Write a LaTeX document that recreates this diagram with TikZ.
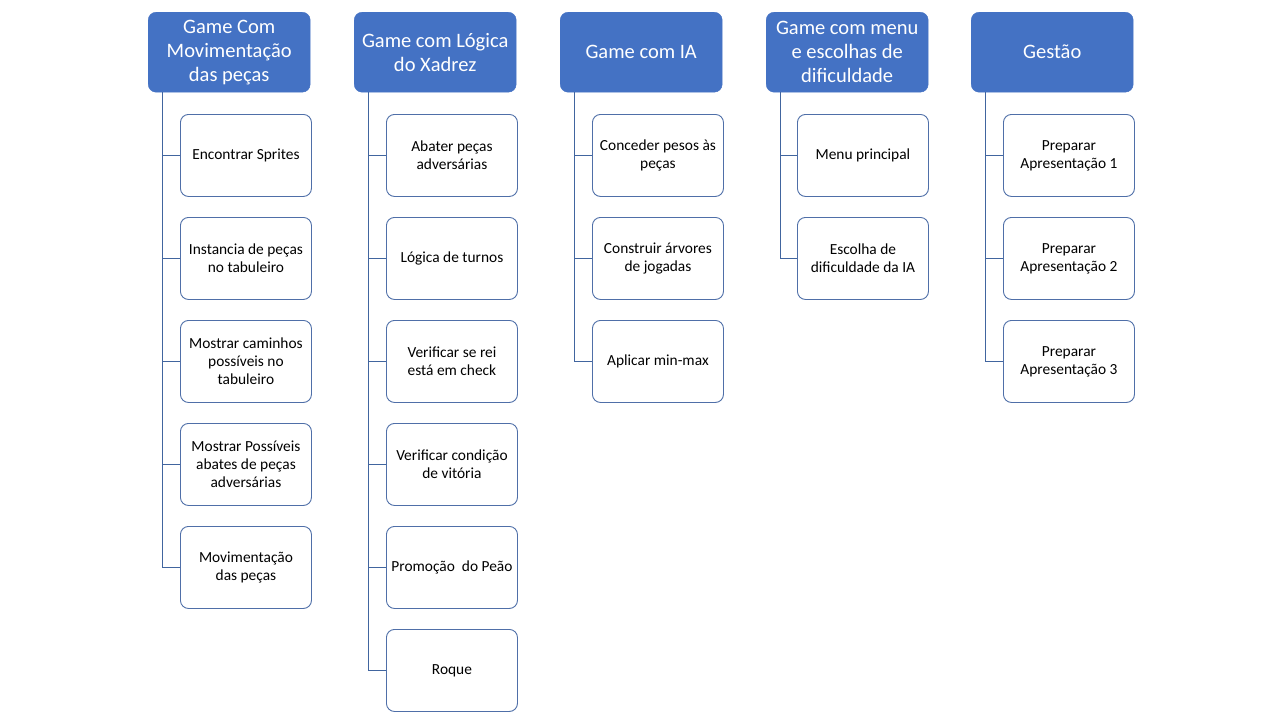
\documentclass[tikz,border=0pt]{standalone}
\usepackage{fontspec}
\setmainfont{Carlito}
\definecolor{hblue}{HTML}{4472C4}
\definecolor{bblue}{HTML}{4F6FA8}
\definecolor{lblue}{HTML}{41659F}
\tikzset{
  head/.style={anchor=north west, fill=hblue, draw=hblue, rounded corners=8pt,
    minimum width=162pt, minimum height=80pt, inner sep=2pt, align=center,
    text=white, font=\fontsize{20.5}{24}\selectfont},
  child/.style={anchor=north west, fill=white, draw=bblue, line width=0.9pt, rounded corners=8pt,
    minimum width=131pt, minimum height=82pt, inner sep=2pt, align=center,
    text=black, font=\fontsize{15.4}{18}\selectfont},
  conn/.style={draw=lblue, line width=1pt}
}
\begin{document}
\begin{tikzpicture}[x=1pt,y=-1pt]
\useasboundingbox (0,0) rectangle (1280,720);
\fill[white] (0,0) rectangle (1280,720);
% headers
\node[head] (h1) at (148,12) {Game Com\\Movimentação\\das peças};
\node[head] (h2) at (354,12) {Game com Lógica\\do Xadrez};
\node[head] (h3) at (560,12) {Game com IA};
\node[head] (h4) at (766,12) {Game com menu\\e escolhas de\\dificuldade};
\node[head] (h5) at (971,12) {Gestão};
% column 1
\node[child] (c11) at (180,114) {Encontrar Sprites};
\node[child] (c12) at (180,217) {Instancia de peças\\no tabuleiro};
\node[child] (c13) at (180,320) {Mostrar caminhos\\possíveis no\\tabuleiro};
\node[child] (c14) at (180,423) {Mostrar Possíveis\\abates de peças\\adversárias};
\node[child] (c15) at (180,526) {Movimentação\\das peças};
% column 2
\node[child] (c21) at (386,114) {Abater peças\\adversárias};
\node[child] (c22) at (386,217) {Lógica de turnos};
\node[child] (c23) at (386,320) {Verificar se rei\\está em check};
\node[child] (c24) at (386,423) {Verificar condição\\de vitória};
\node[child] (c25) at (386,526) {Promoção\ \ do Peão};
\node[child] (c26) at (386,629) {Roque};
% column 3
\node[child] (c31) at (592,114) {Conceder pesos às\\peças};
\node[child] (c32) at (592,217) {Construir árvores\\de jogadas};
\node[child] (c33) at (592,320) {Aplicar min-max};
% column 4
\node[child] (c41) at (797,114) {Menu principal};
\node[child] (c42) at (797,217) {Escolha de\\dificuldade da IA};
% column 5
\node[child] (c51) at (1003,114) {Preparar\\Apresentação 1};
\node[child] (c52) at (1003,217) {Preparar\\Apresentação 2};
\node[child] (c53) at (1003,320) {Preparar\\Apresentação 3};
% connectors
\foreach \c in {c11,c12,c13,c14,c15} \draw[conn] ([xshift=14pt]h1.south west) |- (\c.west);
\foreach \c in {c21,c22,c23,c24,c25,c26} \draw[conn] ([xshift=14pt]h2.south west) |- (\c.west);
\foreach \c in {c31,c32,c33} \draw[conn] ([xshift=14pt]h3.south west) |- (\c.west);
\foreach \c in {c41,c42} \draw[conn] ([xshift=14pt]h4.south west) |- (\c.west);
\foreach \c in {c51,c52,c53} \draw[conn] ([xshift=14pt]h5.south west) |- (\c.west);
\end{tikzpicture}
\end{document}
